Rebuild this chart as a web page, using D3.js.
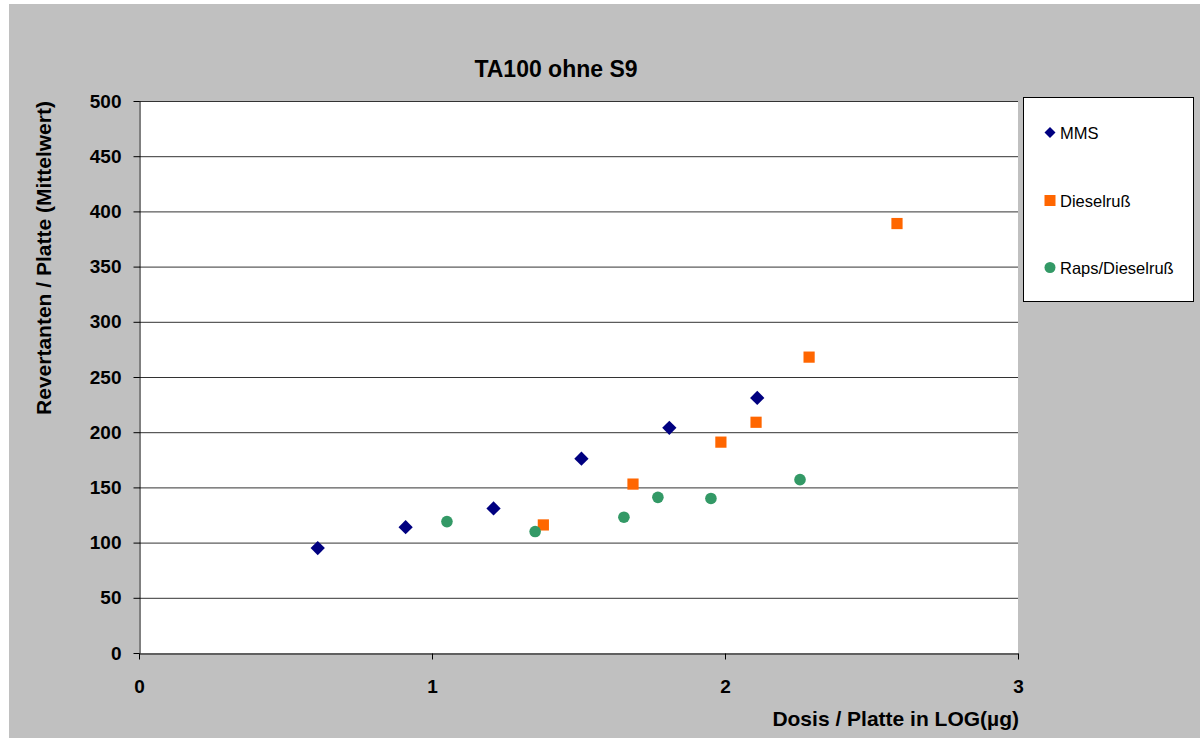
<!DOCTYPE html>
<html>
  <head>
    <meta charset="utf-8">
    <title>TA100 ohne S9</title>
    <script src="https://d3js.org/d3.v7.min.js"></script>
    <style>
      body { margin: 0; background: #fff; }
      text { font-family: "Liberation Sans", Arial, sans-serif; }
      .tick text { font-size: 19px; font-weight: bold; fill: #000; }
    </style>
  </head>
  <body>
    <svg width="1200" height="738"></svg>
  <script>
    // data
    var mmsX = [0.61, 0.91, 1.21, 1.51, 1.81, 2.11],
        mmsY = [95, 114, 131, 176, 204, 231];
    var dieselX = [1.38, 1.686, 1.986, 2.106, 2.287, 2.587],
        dieselY = [116, 153, 191, 209, 268, 389];
    var rapsX = [1.051, 1.352, 1.655, 1.771, 1.952, 2.256],
        rapsY = [119, 110, 123, 141, 140, 157];
    var seriesNames = ["MMS", "Dieselruß", "Raps/Dieselruß"];
    var xTicks = [0, 1, 2, 3],
        yTicks = [0, 50, 100, 150, 200, 250, 300, 350, 400, 450, 500];

    var svg = d3.select("svg");

    // gray chart area
    svg.append("rect")
       .attr("x", 9).attr("y", 4)
       .attr("width", 1191).attr("height", 734)
       .attr("fill", "#c0c0c0");

    var plotL = 139, plotT = 101, plotR = 1018, plotB = 653;

    var x = d3.scaleLinear().domain([0, 3]).range([plotL, plotR]),
        y = d3.scaleLinear().domain([0, 500]).range([plotB, plotT]);

    svg.append("rect")
       .attr("x", plotL).attr("y", plotT)
       .attr("width", plotR - plotL).attr("height", plotB - plotT)
       .attr("fill", "#fff");

    // horizontal gridlines
    svg.append("g")
       .selectAll("line")
       .data(yTicks.slice(1))
       .enter().append("line")
       .attr("x1", plotL).attr("x2", plotR)
       .attr("y1", function(d) { return y(d) + 0.5; })
       .attr("y2", function(d) { return y(d) + 0.5; })
       .attr("stroke", "#333").attr("stroke-width", 1);

    // axes
    var yAxis = svg.append("g")
       .attr("transform", "translate(" + (plotL + 0.5) + ",0)")
       .call(d3.axisLeft(y).tickValues(yTicks).tickSize(6).tickPadding(12).tickSizeOuter(0));
    var xAxis = svg.append("g")
       .attr("transform", "translate(0," + (plotB + 0.5) + ")")
       .call(d3.axisBottom(x).tickValues(xTicks).tickFormat(d3.format("d"))
             .tickSize(6).tickSizeOuter(0));
    [yAxis, xAxis].forEach(function(a) {
      a.selectAll("line, path").attr("stroke", "#000");
    });
    xAxis.selectAll(".tick text").attr("y", 39).attr("dy", 0);

    // markers
    var diamond = d3.symbol().type(d3.symbolSquare).size(102);
    svg.append("g").selectAll("path")
       .data(mmsX)
       .enter().append("path")
       .attr("d", diamond)
       .attr("transform", function(d, i) {
         return "translate(" + x(d) + "," + y(mmsY[i]) + ") rotate(45)";
       })
       .attr("fill", "#000080");

    svg.append("g").selectAll("rect")
       .data(dieselX)
       .enter().append("rect")
       .attr("x", function(d) { return x(d) - 5.6; })
       .attr("y", function(d, i) { return y(dieselY[i]) - 5.6; })
       .attr("width", 11.2).attr("height", 11.2)
       .attr("fill", "#ff6600");

    svg.append("g").selectAll("circle")
       .data(rapsX)
       .enter().append("circle")
       .attr("cx", function(d) { return x(d); })
       .attr("cy", function(d, i) { return y(rapsY[i]); })
       .attr("r", 5.8)
       .attr("fill", "#339966");

    // title and axis titles
    svg.append("text")
       .attr("x", 556).attr("y", 76.5)
       .attr("text-anchor", "middle")
       .attr("font-size", "23px").attr("font-weight", "bold")
       .text("TA100 ohne S9");

    svg.append("text")
       .attr("transform", "translate(51,258) rotate(-90)")
       .attr("text-anchor", "middle")
       .attr("font-size", "21px").attr("font-weight", "bold")
       .text("Revertanten / Platte (Mittelwert)");

    svg.append("text")
       .attr("x", 1019).attr("y", 726)
       .attr("text-anchor", "end")
       .attr("font-size", "21px").attr("font-weight", "bold")
       .text("Dosis / Platte in LOG(µg)");

    // legend
    var legend = svg.append("g");
    legend.append("rect")
       .attr("x", 1023.5).attr("y", 97.5)
       .attr("width", 170).attr("height", 204)
       .attr("fill", "#fff").attr("stroke", "#000");
    var legY = [132.5, 200.5, 267.5];
    legend.selectAll("text")
       .data(seriesNames)
       .enter().append("text")
       .attr("x", 1060)
       .attr("y", function(d, i) { return legY[i] + 6; })
       .attr("font-size", "16.5px")
       .text(function(d) { return d; });
    legend.append("path")
       .attr("d", d3.symbol().type(d3.symbolSquare).size(60))
       .attr("transform", "translate(1050," + legY[0] + ") rotate(45)")
       .attr("fill", "#000080");
    legend.append("rect")
       .attr("x", 1044.5).attr("y", legY[1] - 5.5)
       .attr("width", 11).attr("height", 11)
       .attr("fill", "#ff6600");
    legend.append("circle")
       .attr("cx", 1050).attr("cy", legY[2])
       .attr("r", 5.5)
       .attr("fill", "#339966");
  </script>
  </body>
</html>
